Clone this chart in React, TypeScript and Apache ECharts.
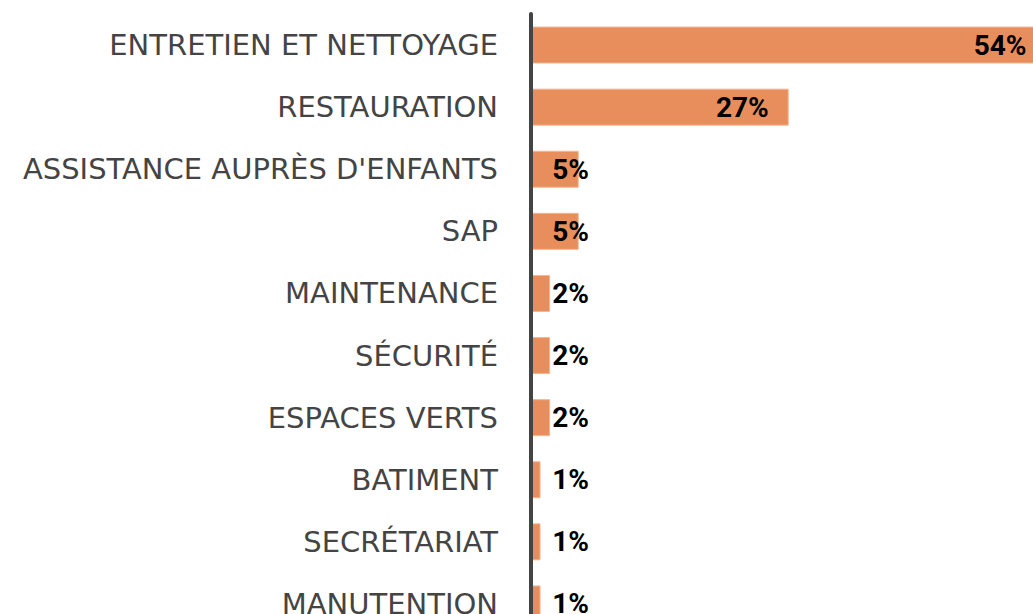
import React, { useEffect, useRef } from "react";
import * as echarts from "echarts";

const categories = [
  "ENTRETIEN ET NETTOYAGE",
  "RESTAURATION",
  "ASSISTANCE AUPRÈS D'ENFANTS",
  "SAP",
  "MAINTENANCE",
  "SÉCURITÉ",
  "ESPACES VERTS",
  "BATIMENT",
  "SECRÉTARIAT",
  "MANUTENTION",
];
const values = [54, 27, 5, 5, 2, 2, 2, 1, 1, 1];

const BAR_COLOR = "#E88E5D";
const INSIDE_THRESHOLD = 10;

export default function App() {
  const ref = useRef<HTMLDivElement>(null);
  useEffect(() => {
    if (!ref.current) return;
    const chart = echarts.init(ref.current, undefined, { renderer: "svg" });
    const data = values.map((v) => ({
      value: v,
      label:
        v >= INSIDE_THRESHOLD
          ? { position: "insideRight", distance: 20 }
          : { position: [58, "50%"], align: "right", verticalAlign: "middle" },
    }));
    chart.setOption({
      animation: false,
      backgroundColor: "#ffffff",
      grid: { left: 531, top: 14, width: 525, height: 621, containLabel: false },
      xAxis: {
        type: "value",
        min: 0,
        max: 55,
        show: false,
        splitLine: { show: false },
      },
      yAxis: {
        type: "category",
        data: categories,
        inverse: true,
        z: 10,
        axisTick: { show: false },
        axisLine: { show: true, lineStyle: { color: "#444444", width: 4 } },
        axisLabel: {
          margin: 33,
          fontSize: 29,
          color: "#444444",
          fontFamily: "DejaVu Sans",
        },
      },
      series: [
        {
          type: "bar",
          data,
          barWidth: 37,
          itemStyle: { color: BAR_COLOR, borderColor: "#F3B692", borderWidth: 1 },
          label: {
            show: true,
            formatter: "{c}%",
            color: "#000000",
            fontSize: 28,
            fontWeight: "bold",
            fontFamily: "Roboto",
          },
        },
      ],
    });
    return () => chart.dispose();
  }, []);
  return (
    <div
      style={{
        position: "fixed",
        left: 0,
        top: 0,
        width: 1033,
        height: 614,
        overflow: "hidden",
      }}
    >
      <div ref={ref} style={{ width: 1070, height: 650 }} />
    </div>
  );
}
